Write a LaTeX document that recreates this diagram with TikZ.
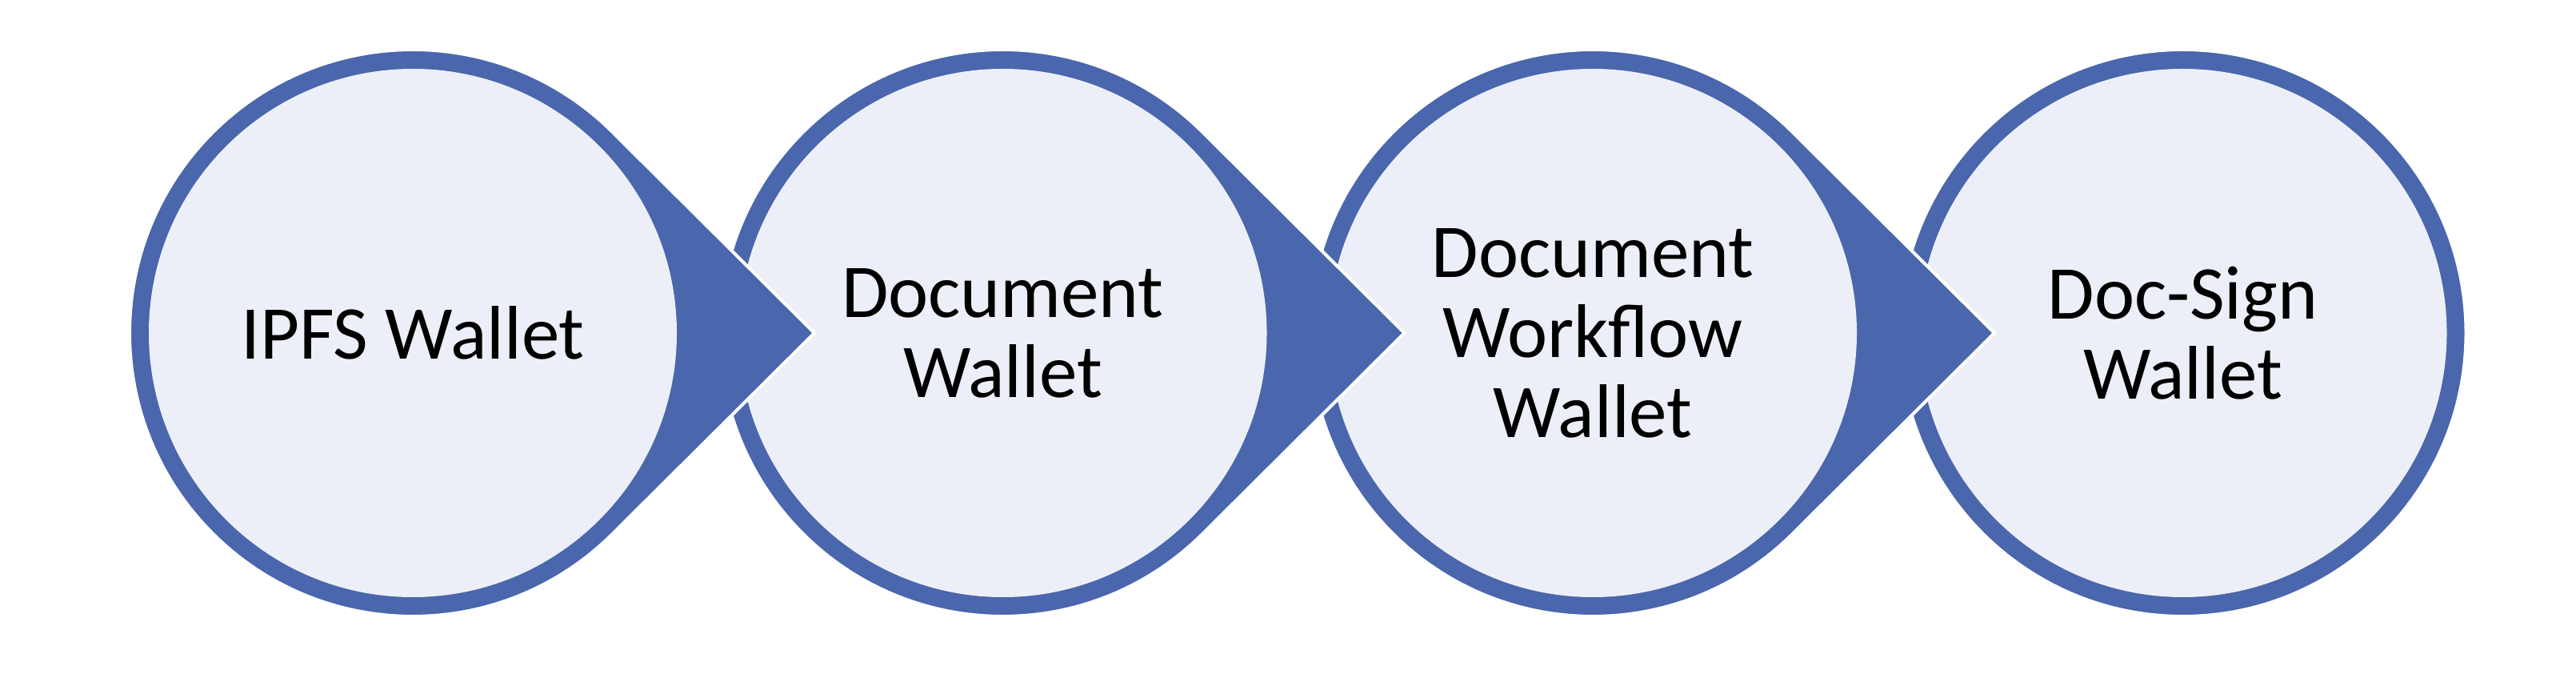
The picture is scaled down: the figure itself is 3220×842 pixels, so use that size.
\documentclass[tikz,border=0pt]{standalone}
\usepackage{fontspec}
\setmainfont{Carlito}
\definecolor{ringblue}{HTML}{4A66AC}
\definecolor{discfill}{HTML}{ECEFF7}
\begin{document}
\begin{tikzpicture}[x=1pt,y=1pt,
  ringshape/.style={fill=ringblue, draw=white, line width=4pt, line join=miter},
  discshape/.style={fill=discfill},
  wtext/.style={font=\fontsize{95}{100}\selectfont, align=center, text=black, inner sep=0pt}]
\useasboundingbox (0,0) rectangle (3220,842);
\fill[white] (0,0) rectangle (3220,842);
\def\R{354}
\def\r{330}
\def\tip{502}
\def\ang{45.2}
\coordinate (c1) at (516,426);
\coordinate (c2) at (1253.5,426);
\coordinate (c3) at (1991,426);
\coordinate (c4) at (2728.5,426);
% circle 4 (no pointer)
\path[ringshape] (c4) circle[radius=\R];
\path[discshape] (c4) circle[radius=\r];
\node[wtext] (n4) at (c4) {Doc-Sign\\Wallet};
% circles 3,2,1 with pointers, drawn right to left so each tip overlaps the next
\foreach \c in {c3, c2, c1}{
  \coordinate (tp) at ([xshift=\tip]\c);
  \path[ringshape] (tp) -- ([shift={(\ang:\R)}]\c) arc[start angle=\ang, end angle=360-\ang, radius=\R] -- cycle;
  \path[discshape] (\c) circle[radius=\r];
}
\node[wtext] (n3) at (c3) {Document\\Workflow\\Wallet};
\node[wtext] (n2) at (c2) {Document\\Wallet};
\node[wtext] (n1) at (c1) {IPFS Wallet};
\end{tikzpicture}
\end{document}
